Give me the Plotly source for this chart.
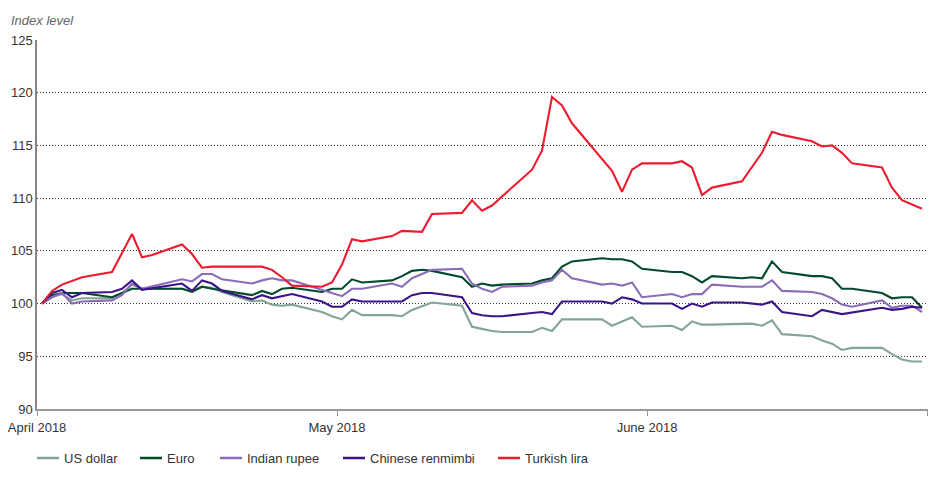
import plotly.graph_objects as go

# 指数水平（2018年4月2日 = 100）
usd_dates = ["2018-04-02", "2018-04-03", "2018-04-04", "2018-04-05", "2018-04-06", "2018-04-09", "2018-04-10",
             "2018-04-11", "2018-04-12", "2018-04-16", "2018-04-17", "2018-04-18", "2018-04-19", "2018-04-20",
             "2018-04-23", "2018-04-24", "2018-04-25", "2018-04-26", "2018-04-27", "2018-04-30", "2018-05-01",
             "2018-05-02", "2018-05-03", "2018-05-04", "2018-05-07", "2018-05-08", "2018-05-09", "2018-05-11",
             "2018-05-14", "2018-05-15", "2018-05-16", "2018-05-17", "2018-05-18", "2018-05-21", "2018-05-22",
             "2018-05-23", "2018-05-24", "2018-05-28", "2018-05-29", "2018-05-30", "2018-05-31", "2018-06-01",
             "2018-06-04", "2018-06-05", "2018-06-06", "2018-06-07", "2018-06-08", "2018-06-12", "2018-06-13",
             "2018-06-14", "2018-06-15", "2018-06-18", "2018-06-19", "2018-06-20", "2018-06-21", "2018-06-22",
             "2018-06-25", "2018-06-26", "2018-06-27", "2018-06-28", "2018-06-29"]
usd_values = [100.0, 100.6, 100.9, 100.3, 100.5, 100.5, 101.0,
              101.8, 101.4, 101.4, 101.2, 101.6, 101.5, 101.1,
              100.2, 100.3, 99.9, 99.8, 99.9, 99.2, 98.8,
              98.5, 99.4, 98.9, 98.9, 98.8, 99.4, 100.1,
              99.8, 97.8, 97.6, 97.4, 97.3, 97.3, 97.7,
              97.4, 98.5, 98.5, 97.9, 98.3, 98.7, 97.8,
              97.9, 97.5, 98.3, 98.0, 98.0, 98.1, 97.9,
              98.4, 97.1, 96.9, 96.5, 96.2, 95.6, 95.8,
              95.8, 95.2, 94.7, 94.5, 94.5]

eur_dates = ["2018-04-02", "2018-04-03", "2018-04-04", "2018-04-06", "2018-04-09", "2018-04-11", "2018-04-16",
             "2018-04-17", "2018-04-18", "2018-04-19", "2018-04-23", "2018-04-24", "2018-04-25", "2018-04-26",
             "2018-04-27", "2018-04-30", "2018-05-01", "2018-05-02", "2018-05-03", "2018-05-04", "2018-05-07",
             "2018-05-08", "2018-05-09", "2018-05-10", "2018-05-11", "2018-05-14", "2018-05-15", "2018-05-16",
             "2018-05-17", "2018-05-18", "2018-05-21", "2018-05-22", "2018-05-23", "2018-05-24", "2018-05-25",
             "2018-05-28", "2018-05-29", "2018-05-30", "2018-05-31", "2018-06-01", "2018-06-04", "2018-06-05",
             "2018-06-06", "2018-06-07", "2018-06-08", "2018-06-11", "2018-06-12", "2018-06-13", "2018-06-14",
             "2018-06-15", "2018-06-18", "2018-06-19", "2018-06-20", "2018-06-21", "2018-06-22", "2018-06-25",
             "2018-06-26", "2018-06-27", "2018-06-28", "2018-06-29"]
eur_values = [100.0, 100.8, 101.0, 101.0, 100.6, 101.4, 101.4,
              101.1, 101.6, 101.4, 100.8, 101.2, 100.9, 101.4,
              101.5, 101.1, 101.4, 101.4, 102.3, 102.0, 102.2,
              102.6, 103.1, 103.2, 103.1, 102.5, 101.6, 101.9,
              101.7, 101.8, 101.9, 102.2, 102.4, 103.5, 104.0,
              104.3, 104.2, 104.2, 104.0, 103.3, 103.0, 103.0,
              102.6, 102.0, 102.6, 102.4, 102.5, 102.4, 104.0,
              103.0, 102.6, 102.6, 102.4, 101.4, 101.4, 101.0,
              100.5, 100.6, 100.6, 99.6]

inr_dates = ["2018-04-02", "2018-04-03", "2018-04-04", "2018-04-05", "2018-04-06", "2018-04-09", "2018-04-10",
             "2018-04-11", "2018-04-12", "2018-04-16", "2018-04-17", "2018-04-18", "2018-04-19", "2018-04-20",
             "2018-04-23", "2018-04-24", "2018-04-25", "2018-04-26", "2018-04-27", "2018-05-02", "2018-05-03",
             "2018-05-04", "2018-05-07", "2018-05-08", "2018-05-09", "2018-05-11", "2018-05-14", "2018-05-15",
             "2018-05-16", "2018-05-17", "2018-05-18", "2018-05-21", "2018-05-22", "2018-05-23", "2018-05-24",
             "2018-05-25", "2018-05-28", "2018-05-29", "2018-05-30", "2018-05-31", "2018-06-01", "2018-06-04",
             "2018-06-05", "2018-06-06", "2018-06-07", "2018-06-08", "2018-06-11", "2018-06-13", "2018-06-14",
             "2018-06-15", "2018-06-18", "2018-06-19", "2018-06-20", "2018-06-21", "2018-06-22", "2018-06-25",
             "2018-06-26", "2018-06-27", "2018-06-28", "2018-06-29"]
inr_values = [100.0, 100.6, 101.0, 100.0, 100.2, 100.3, 100.8,
              101.9, 101.4, 102.3, 102.1, 102.8, 102.8, 102.3,
              101.9, 102.2, 102.4, 102.2, 102.2, 100.7, 101.4,
              101.4, 101.9, 101.6, 102.4, 103.2, 103.3, 101.9,
              101.4, 101.1, 101.6, 101.7, 102.0, 102.2, 103.2,
              102.4, 101.8, 101.9, 101.7, 102.0, 100.6, 100.9,
              100.6, 100.9, 100.9, 101.8, 101.6, 101.6, 102.2,
              101.2, 101.1, 100.9, 100.5, 99.9, 99.7, 100.3,
              99.6, 99.8, 99.8, 99.2]

cny_dates = ["2018-04-02", "2018-04-03", "2018-04-04", "2018-04-05", "2018-04-06", "2018-04-09", "2018-04-10",
             "2018-04-11", "2018-04-12", "2018-04-16", "2018-04-17", "2018-04-18", "2018-04-19", "2018-04-20",
             "2018-04-23", "2018-04-24", "2018-04-25", "2018-04-26", "2018-04-27", "2018-04-30", "2018-05-01",
             "2018-05-02", "2018-05-03", "2018-05-04", "2018-05-08", "2018-05-09", "2018-05-10", "2018-05-11",
             "2018-05-14", "2018-05-15", "2018-05-16", "2018-05-17", "2018-05-18", "2018-05-21", "2018-05-22",
             "2018-05-23", "2018-05-24", "2018-05-28", "2018-05-29", "2018-05-30", "2018-05-31", "2018-06-01",
             "2018-06-04", "2018-06-05", "2018-06-06", "2018-06-07", "2018-06-08", "2018-06-11", "2018-06-13",
             "2018-06-14", "2018-06-15", "2018-06-18", "2018-06-19", "2018-06-21", "2018-06-25", "2018-06-26",
             "2018-06-27", "2018-06-28", "2018-06-29"]
cny_values = [100.0, 101.0, 101.3, 100.6, 101.0, 101.1, 101.4,
              102.2, 101.3, 101.9, 101.2, 102.2, 101.9, 101.2,
              100.4, 100.8, 100.5, 100.7, 100.9, 100.2, 99.7,
              99.7, 100.4, 100.2, 100.2, 100.8, 101.0, 101.0,
              100.6, 99.1, 98.9, 98.8, 98.8, 99.1, 99.2,
              99.0, 100.2, 100.2, 100.0, 100.6, 100.4, 100.0,
              100.0, 99.5, 100.0, 99.7, 100.1, 100.1, 99.9,
              100.2, 99.2, 98.8, 99.4, 99.0, 99.6, 99.4,
              99.5, 99.7, 99.6]

try_dates = ["2018-04-02", "2018-04-03", "2018-04-04", "2018-04-06", "2018-04-09", "2018-04-11", "2018-04-12",
             "2018-04-13", "2018-04-16", "2018-04-17", "2018-04-18", "2018-04-19", "2018-04-24", "2018-04-25",
             "2018-04-26", "2018-04-27", "2018-04-30", "2018-05-01", "2018-05-02", "2018-05-03", "2018-05-04",
             "2018-05-07", "2018-05-08", "2018-05-10", "2018-05-11", "2018-05-14", "2018-05-15", "2018-05-16",
             "2018-05-17", "2018-05-21", "2018-05-22", "2018-05-23", "2018-05-24", "2018-05-25", "2018-05-29",
             "2018-05-30", "2018-05-31", "2018-06-01", "2018-06-04", "2018-06-05", "2018-06-06", "2018-06-07",
             "2018-06-08", "2018-06-11", "2018-06-13", "2018-06-14", "2018-06-15", "2018-06-18", "2018-06-19",
             "2018-06-20", "2018-06-21", "2018-06-22", "2018-06-25", "2018-06-26", "2018-06-27", "2018-06-29"]
try_values = [100.0, 101.2, 101.8, 102.5, 103.0, 106.6, 104.4,
              104.6, 105.6, 104.7, 103.4, 103.5, 103.5, 103.2,
              102.5, 101.7, 101.6, 102.0, 103.7, 106.1, 105.9,
              106.4, 106.9, 106.8, 108.5, 108.6, 109.8, 108.8,
              109.3, 112.7, 114.5, 119.6, 118.8, 117.1, 112.6,
              110.6, 112.7, 113.3, 113.3, 113.5, 112.9, 110.3,
              111.0, 111.6, 114.3, 116.3, 116.0, 115.4, 114.9,
              115.0, 114.3, 113.3, 112.9, 111.0, 109.8, 109.0]

series_names = ["US dollar", "Euro", "Indian rupee", "Chinese renmimbi", "Turkish lira"]
series_colors = ["#84a595", "#034a2b", "#8a6cb9", "#3c1488", "#ec1b2e"]

tick_vals = ["2018-04-01 12:10", "2018-05-01 12:00", "2018-06-01 12:00", "2018-06-29 14:10"]
tick_text = ["April 2018", "May 2018", "June 2018", ""]

FONT = "Arial, Liberation Sans, sans-serif"

fig = go.Figure()
all_series = [(usd_dates, usd_values), (eur_dates, eur_values), (inr_dates, inr_values),
              (cny_dates, cny_values), (try_dates, try_values)]
for (d, v), name, color in zip(all_series, series_names, series_colors):
    fig.add_trace(go.Scatter(x=d, y=v, mode="lines", name=name,
                             line=dict(color=color, width=2.1), showlegend=False))

# 手工图例（底部），位置以绘图区左边为 0
legend_x = [0, 103, 183, 306, 461]
for i, (name, color) in enumerate(zip(series_names, series_colors)):
    x0 = legend_x[i] / 891
    x1 = (legend_x[i] + 22) / 891
    fig.add_shape(type="line", xref="paper", yref="paper", x0=x0, x1=x1,
                  y0=-0.1328, y1=-0.1328, line=dict(color=color, width=2.5))
    fig.add_annotation(x=(legend_x[i] + 25) / 891, y=-0.1328, xref="paper", yref="paper",
                       text=name, showarrow=False, xanchor="left", yanchor="middle",
                       font=dict(family=FONT, size=13, color="#333333"))

fig.add_annotation(x=-0.0315, y=1.054, xref="paper", yref="paper", text="<i>Index level</i>",
                   showarrow=False, xanchor="left", yanchor="middle",
                   font=dict(family=FONT, size=13, color="#666666"))

# 页面 body 自带 8px 外边距，这里把画布缩小来抵消
fig.update_layout(
    width=923, height=472,
    margin=dict(l=29, r=3, t=32, b=71, autoexpand=False),
    paper_bgcolor="white", plot_bgcolor="white",
    font=dict(family=FONT, size=13, color="#333333"),
    xaxis=dict(type="date", range=["2018-04-01 12:00", "2018-06-29 14:24"],
               tickmode="array", tickvals=tick_vals, ticktext=tick_text,
               ticks="outside", ticklen=5, tickcolor="#999999",
               ticklabeloverflow="allow",
               showline=True, linecolor="#999999", linewidth=2,
               showgrid=False, zeroline=False, automargin=False),
    yaxis=dict(range=[90, 125], dtick=5, tick0=90,
               showgrid=True, gridcolor="#333333", gridwidth=1, griddash="1px,2px",
               showline=True, linecolor="#8a8580", linewidth=1.5,
               ticks="", zeroline=False, automargin=False),
)

fig.write_html("out.html")
